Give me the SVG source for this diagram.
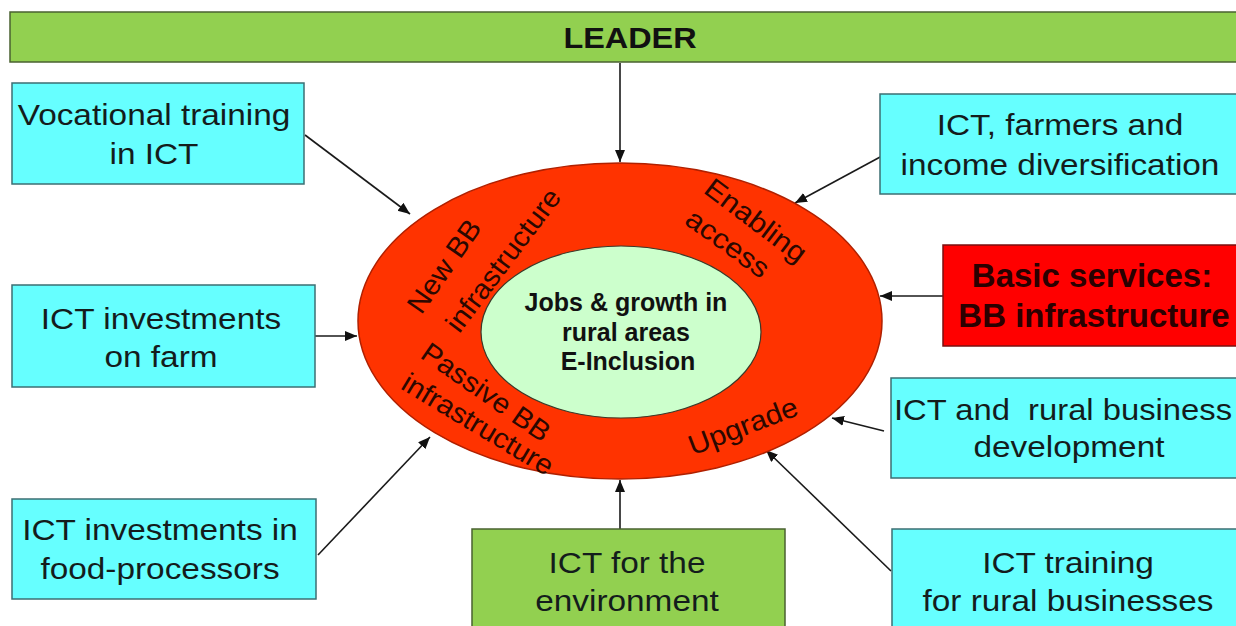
<svg xmlns="http://www.w3.org/2000/svg" width="1236" height="626" viewBox="0 0 1236 626">
<style>
.cy{fill:#66FFFF;stroke:#3d6f73;stroke-width:1.5}
.gr{fill:#92D050;stroke:#4a6130;stroke-width:1.5}
.rd{fill:#FF0000;stroke:#7a1010;stroke-width:1.5}
.t{font-family:"Liberation Sans",Arial,sans-serif;font-size:29px;fill:#141c1c;text-anchor:middle}
.b{font-family:"Liberation Sans",Arial,sans-serif;font-weight:bold;text-anchor:middle;fill:#111}
.r{font-family:"Liberation Sans",Arial,sans-serif;font-size:28px;fill:#2b0800;text-anchor:middle;dominant-baseline:central}
.c{stroke:#1a1a1a;stroke-width:1.6;fill:none;marker-end:url(#ah)}
</style>
<defs>
<marker id="ah" markerUnits="userSpaceOnUse" markerWidth="14" markerHeight="12" refX="12" refY="5" orient="auto">
<path d="M0,0 L12,5 L0,10 Z" fill="#111"/>
</marker>
</defs>
<rect width="1236" height="626" fill="#fff"/>

<g id="connectors">
<line class="c" x1="620" y1="63" x2="620" y2="162"/>
<line class="c" x1="305" y1="135" x2="410" y2="214"/>
<line class="c" x1="315" y1="336" x2="357" y2="336"/>
<line class="c" x1="318" y1="555" x2="430" y2="437"/>
<line class="c" x1="620" y1="529" x2="620" y2="480"/>
<line class="c" x1="882" y1="156" x2="795" y2="203"/>
<line class="c" x1="943" y1="296" x2="880" y2="296"/>
<line class="c" x1="884" y1="431" x2="832" y2="418"/>
<line class="c" x1="891" y1="571" x2="766" y2="450"/>
</g>

<g id="leader">
<rect class="gr" x="10" y="12" width="1240" height="50"/>
<text class="b" font-size="30" transform="matrix(1.08,0,0,1,630,48)">LEADER</text>
</g>

<g id="ring">
<ellipse cx="620" cy="321" rx="262" ry="158" fill="#FF3300" stroke="#b02000" stroke-width="1.5"/>
<ellipse cx="621" cy="332" rx="140" ry="86" fill="#CCFFCC" stroke="#3a3a2a" stroke-width="1.2"/>
<text class="b" font-size="25"><tspan x="626" y="311">Jobs &amp; growth in</tspan><tspan x="626" y="341">rural areas</tspan><tspan x="628" y="370">E-Inclusion</tspan></text>
<text class="r" transform="translate(444,266) rotate(-55) scale(1.06,1)">New BB</text>
<text class="r" transform="translate(503,260) rotate(-53) scale(1.05,1)">infrastructure</text>
<text class="r" transform="translate(756,220) rotate(37) scale(1.1,1)">Enabling</text>
<text class="r" transform="translate(728,243) rotate(36) scale(1.1,1)">access</text>
<text class="r" transform="translate(486,392) rotate(35) scale(1.05,1)">Passive BB</text>
<text class="r" transform="translate(478,424) rotate(31) scale(1.05,1)">infrastructure</text>
<text class="r" transform="translate(743,426) rotate(-21) scale(1.07,1)">Upgrade</text>
</g>

<g id="vocational">
<rect class="cy" x="12" y="83" width="292" height="101"/>
<text class="t" transform="matrix(1.15,0,0,1,154,0)"><tspan x="0" y="125">Vocational training</tspan><tspan x="0" y="164">in ICT</tspan></text>
</g>

<g id="farm">
<rect class="cy" x="12" y="285" width="303" height="102"/>
<text class="t" transform="matrix(1.15,0,0,1,161,0)"><tspan x="0" y="329">ICT investments</tspan><tspan x="0" y="367">on farm</tspan></text>
</g>

<g id="food">
<rect class="cy" x="12" y="499" width="304" height="100"/>
<text class="t" transform="matrix(1.15,0,0,1,160,0)"><tspan x="0" y="540">ICT investments in</tspan><tspan x="0" y="579">food-processors</tspan></text>
</g>

<g id="environment">
<rect class="gr" x="472" y="529" width="313" height="110"/>
<text class="t" transform="matrix(1.15,0,0,1,627,0)"><tspan x="0" y="573">ICT for the</tspan><tspan x="0" y="611">environment</tspan></text>
</g>

<g id="farmers">
<rect class="cy" x="880" y="94" width="370" height="100"/>
<text class="t" transform="matrix(1.15,0,0,1,1060,0)"><tspan x="0" y="135">ICT, farmers and</tspan><tspan x="0" y="175">income diversification</tspan></text>
</g>

<g id="basic">
<rect class="rd" x="943" y="245" width="310" height="101"/>
<text class="b" font-size="33" style="fill:#2a0000"><tspan x="1092" y="287">Basic services:</tspan><tspan x="1094" y="327">BB infrastructure</tspan></text>
</g>

<g id="business">
<rect class="cy" x="891" y="378" width="360" height="100"/>
<text class="t" style="white-space:pre" transform="matrix(1.13,0,0,1,1063,0)"><tspan x="0" y="420">ICT and  rural business</tspan></text>
<text class="t" transform="matrix(1.15,0,0,1,1069,0)"><tspan x="0" y="457">development</tspan></text>
</g>

<g id="training">
<rect class="cy" x="892" y="529" width="360" height="110"/>
<text class="t" transform="matrix(1.15,0,0,1,1068,0)"><tspan x="0" y="573">ICT training</tspan><tspan x="0" y="611">for rural businesses</tspan></text>
</g>
</svg>
